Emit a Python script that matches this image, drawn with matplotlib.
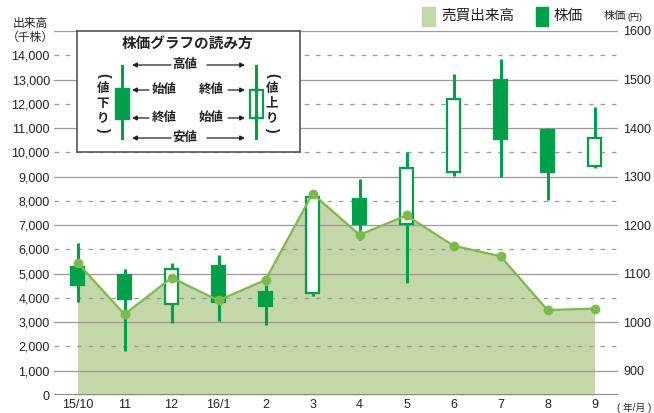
import numpy as np
import matplotlib
matplotlib.use("Agg")
import matplotlib.pyplot as plt
from matplotlib.patches import Rectangle

plt.rcParams['font.family'] = ['Liberation Sans', 'Noto Sans CJK JP']

# data
months = ['15/10', '11', '12', '16/1', '2', '3', '4', '5', '6', '7', '8', '9']
volume = [5450, 3320, 4830, 3900, 4740, 8300, 6600, 7400, 6150, 5720, 3500, 3560]   # 千株
p_open = [1113, 1097, 1038, 1116, 1063, 1060, 1253, 1202, 1310, 1499, 1395, 1321]
p_high = [1164, 1110, 1122, 1138, 1077, 1262, 1295, 1351, 1511, 1542, 1400, 1443]
p_low = [1041, 941, 998, 1002, 995, 1053, 1169, 1080, 1302, 1299, 1252, 1318]
p_close = [1077, 1047, 1110, 1041, 1034, 1257, 1202, 1318, 1460, 1378, 1310, 1380]

GREEN = '#00a04a'
FILL = '#c4d7a8'
LINE = '#7dba4c'
GRID = '#9a9a9a'
TXT = '#222222'

W, H = 654, 413
fig = plt.figure(figsize=(W / 100, H / 100), dpi=100)
ax = fig.add_axes([54 / W, 1 - 395 / H, (618 - 54) / W, (395 - 31) / H])

x = np.arange(len(months))

# volume area
ax.fill_between(x, volume, color=FILL, lw=0, zorder=1)
for v in range(1000, 15001, 1000):
    if (v // 1000) % 2:
        ax.axhline(v, color=GRID, lw=0.9, zorder=2)
    else:
        ax.axhline(v, color=GRID, lw=0.9, ls=(0, (3.6, 5.5)), zorder=2)
ax.axhline(0, color='#888888', lw=1.4, zorder=2)

ax.set_xlim(-0.5, 11.5)
ax.set_ylim(0, 15000)
for s in ax.spines.values():
    s.set_visible(False)
ax.set_yticks(range(0, 15000, 1000))
ax.set_yticklabels(['{:,}'.format(v) for v in range(0, 15000, 1000)])
ax.set_xticks(x)
ax.set_xticklabels(months)
ax.tick_params(axis='y', length=0, pad=3, labelsize=9, labelcolor=TXT)
ax.tick_params(axis='x', length=0, pad=3, labelsize=9, labelcolor=TXT)

# price candles
ax2 = ax.twinx()
ax2.set_ylim(850, 1600)
for s in ax2.spines.values():
    s.set_visible(False)
ax2.set_yticks(range(900, 1601, 100))
ax2.tick_params(axis='y', length=0, pad=4, labelsize=9, labelcolor=TXT)
ax2.vlines(x, p_low, p_high, color=GREEN, lw=2.2, zorder=2)
for i in range(len(x)):
    up = p_close[i] > p_open[i]
    ax2.bar(x[i], abs(p_close[i] - p_open[i]), bottom=min(p_open[i], p_close[i]),
            width=0.27, color='white' if up else GREEN, edgecolor=GREEN,
            lw=1.6, zorder=3)

# volume line on top
ax3 = ax.twinx()
ax3.set_ylim(0, 15000)
ax3.axis('off')
ax3.plot(x, volume, '-o', color=LINE, lw=1.6, ms=6, zorder=4)

# axis captions
fig.text(30 / W, 1 - 24 / H, '出来高', ha='center', va='center', fontsize=8.5, color=TXT)
fig.text(30 / W, 1 - 38 / H, '（千株）', ha='center', va='center', fontsize=8.5, color=TXT)
fig.text(604 / W, 1 - 16 / H, '株価', ha='left', va='center', fontsize=8, color=TXT)
fig.text(628 / W, 1 - 17 / H, '(円)', ha='left', va='center', fontsize=6.5, color=TXT)
fig.text(617 / W, 1 - 408 / H, '( 年/月 )', ha='left', va='center', fontsize=7, color=TXT)

# top legend
fig.patches.append(Rectangle((422 / W, 1 - 25.5 / H), 13 / W, 18 / H,
                             transform=fig.transFigure, color=FILL))
fig.text(441 / W, 1 - 16 / H, '売買出来高', ha='left', va='center', fontsize=10.5, color=TXT)
fig.patches.append(Rectangle((536 / W, 1 - 25.5 / H), 12 / W, 18 / H,
                             transform=fig.transFigure, color=GREEN))
fig.text(554 / W, 1 - 16 / H, '株価', ha='left', va='center', fontsize=10.5, color=TXT)

# how-to-read box
axin = fig.add_axes([77 / W, 1 - 152 / H, 223 / W, 121 / H])
axin.set_zorder(10)
axin.set_xlim(0, 223)
axin.set_ylim(121, 0)
axin.set_xticks([])
axin.set_yticks([])
for s in axin.spines.values():
    s.set_color('#555555')
    s.set_linewidth(1.2)

axin.text(111, 14, '株価グラフの読み方', ha='center', va='center', fontsize=10.5,
          fontweight='bold', color=TXT)

axin.plot([45, 45], [35, 107], color=GREEN, lw=2.2)
axin.add_patch(Rectangle((38, 57), 14, 31, fc=GREEN, ec=GREEN, lw=1))
axin.plot([179, 179], [35, 107], color=GREEN, lw=2.2)
axin.add_patch(Rectangle((172.5, 58.5), 13, 29, fc='white', ec=GREEN, lw=1.6))

arrow = dict(arrowstyle='-|>', color=TXT, lw=0.9, mutation_scale=7, shrinkA=0, shrinkB=0)
for yy, lab in [(34, '高値'), (107, '安値')]:
    axin.text(108, yy, lab, ha='center', va='center', fontsize=9, fontweight='bold', color=TXT)
    axin.annotate('', xy=(55, yy), xytext=(94, yy), arrowprops=arrow)
    axin.annotate('', xy=(168, yy), xytext=(130, yy), arrowprops=arrow)
for yy, l1, l2 in [(59, '始値', '終値'), (87, '終値', '始値')]:
    axin.text(87, yy, l1, ha='center', va='center', fontsize=9, fontweight='bold', color=TXT)
    axin.annotate('', xy=(55, yy), xytext=(72, yy), arrowprops=arrow)
    axin.text(134, yy, l2, ha='center', va='center', fontsize=9, fontweight='bold', color=TXT)
    axin.annotate('', xy=(168, yy), xytext=(151, yy), arrowprops=arrow)

for xx, word in [(26, '値下り'), (195, '値上り')]:
    axin.text(xx, 44, '(', rotation=-90, ha='center', va='center', fontsize=10,
              fontweight='bold', color=TXT)
    for k, ch in enumerate(word):
        axin.text(xx, 58 + k * 14.5, ch, ha='center', va='center', fontsize=9,
                  fontweight='bold', color=TXT)
    axin.text(xx, 98, ')', rotation=-90, ha='center', va='center', fontsize=10,
              fontweight='bold', color=TXT)

fig.savefig('out.png', dpi=100)
